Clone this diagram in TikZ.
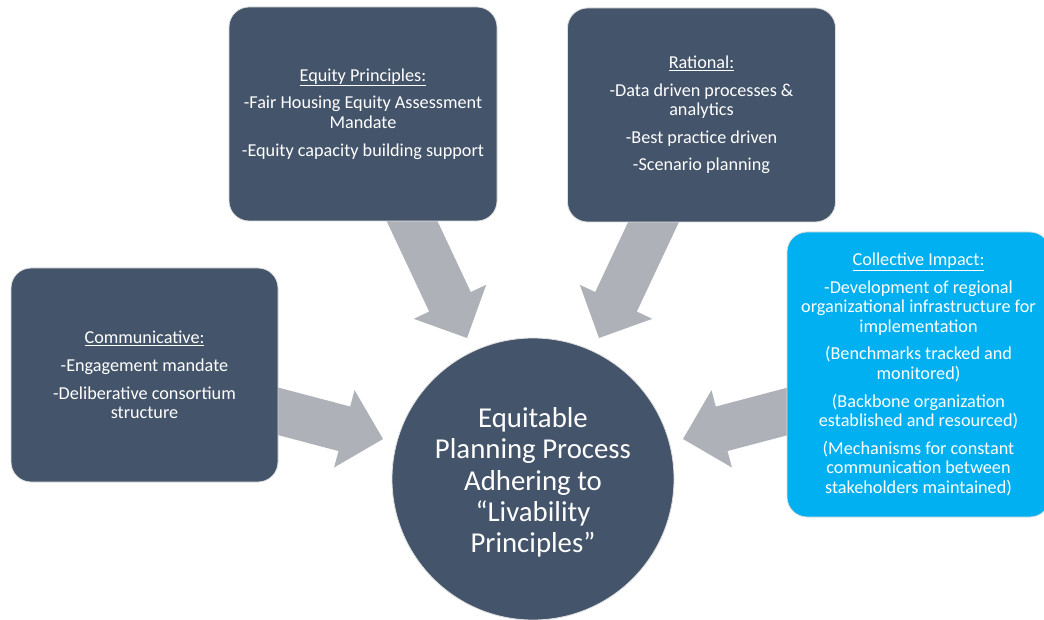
\documentclass[tikz,border=0pt]{standalone}
\usepackage{fontspec}
\setmainfont{Carlito}
\usetikzlibrary{calc,positioning}
\definecolor{slate}{RGB}{68,84,106}
\definecolor{skyblue}{RGB}{0,176,240}
\definecolor{arrowgray}{RGB}{174,177,184}
\tikzstyle{box}=[rectangle,rounded corners=20pt,fill=slate,draw=gray!25,line width=0.8pt,text=white,align=center,font=\fontsize{18.2}{19.6}\selectfont,minimum width=268pt,minimum height=214pt,inner sep=0pt]
\tikzstyle{hub}=[circle,fill=slate,draw=gray!25,line width=0.8pt,text=white,align=center,font=\fontsize{28.8}{31.4}\selectfont,minimum size=282pt,inner sep=0pt]
\tikzstyle{bigarrow}=[fill=arrowgray]

\newcommand{\blockarrow}[2]{%
  \coordinate (h) at ($(#2)!40pt!(#1)$);
  \path[bigarrow] ($(#1)!23pt!90:(#2)$) -- ($(h)!23pt!90:(#2)$) -- ($(h)!40pt!90:(#2)$) -- (#2)
     -- ($(h)!40pt!-90:(#2)$) -- ($(h)!23pt!-90:(#2)$) -- ($(#1)!23pt!-90:(#2)$) -- cycle;
}

\begin{document}
\begin{tikzpicture}[x=1pt,y=-1pt]
    \useasboundingbox (0,0) rectangle (1044,620);
    \fill[white] (0,0) rectangle (1044,620);

    % arrow ends
    \foreach \x/\y/ \name in {404/204/eqS, 467/338/eqT, 662/204/raS, 599/338/raT,
                              258/406/coS, 383/439/coT, 808/406/ciS, 683/439/ciT}
        \coordinate (\name) at (\x,\y);

    \foreach \source/ \dest in {eqS/eqT, raS/raT, coS/coT, ciS/ciT}
        \blockarrow{\source}{\dest};

    % boxes
    \node[box] (equity) at (363,114) {\underline{Equity Principles:}\\[8pt]-Fair Housing Equity Assessment\\Mandate\\[8pt]-Equity capacity building support};
    \node[box] (rational) at (701.5,115) {\underline{Rational:}\\[8pt]-Data driven processes \&\\analytics\\[8pt]-Best practice driven\\[8pt]-Scenario planning};
    \node[box,minimum width=267pt] (communicative) at (144.5,375) {\underline{Communicative:}\\[8pt]-Engagement mandate\\[8pt]-Deliberative consortium\\structure};
    \node[box,fill=skyblue,minimum width=263pt,minimum height=285pt] (collective) at (918.5,374.5) {\underline{Collective Impact:}\\[8pt]-Development of regional\\organizational infrastructure for\\implementation\\[8pt](Benchmarks tracked and\\monitored)\\[8pt](Backbone organization\\established and resourced)\\[8pt](Mechanisms for constant\\communication between\\stakeholders maintained)};

    \node[hub] (process) at (533,479) {\rule{0pt}{27pt}Equitable\\Planning Process\\Adhering to\\“Livability\\Principles”};

\end{tikzpicture}
\end{document}
